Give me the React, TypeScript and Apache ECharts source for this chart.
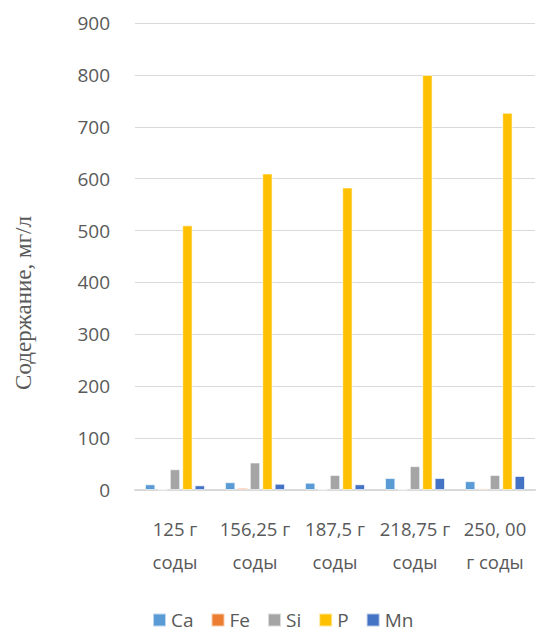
import React, { useEffect, useRef } from "react";
import * as echarts from "echarts";

const categories = ["125 г\nсоды", "156,25 г\nсоды", "187,5 г\nсоды", "218,75 г\nсоды", "250, 00\nг соды"];
const seriesNames = ["Ca", "Fe", "Si", "P", "Mn"];
const caValues = [11, 15, 14, 23, 17];
const feValues = [1, 4, 1, 1, 3];
const siValues = [40, 53, 29, 46, 29];
const pValues = [510, 610, 583, 800, 727];
const mnValues = [9, 12, 11, 23, 27];
const colors = ["#5B9BD5", "#ED7D31", "#A5A5A5", "#FFC000", "#4472C4"];
const yTitle = "Содержание, мг/л";

export default function App() {
  const ref = useRef<HTMLDivElement>(null);
  useEffect(() => {
    if (!ref.current) return;
    const chart = echarts.init(ref.current, null, { renderer: "svg" });
    const data = [caValues, feValues, siValues, pValues, mnValues];
    chart.setOption({
      animation: false,
      backgroundColor: "#ffffff",
      textStyle: { fontFamily: "Open Sans" },
      grid: { left: 135, right: 2, top: 23, bottom: 144 },
      legend: {
        data: seriesNames,
        left: 147,
        top: 604,
        padding: [5, 5, 5, 5],
        itemWidth: 13,
        itemHeight: 13,
        itemGap: 17,
        icon: "rect",
        textStyle: { color: "#595959", fontSize: 19, lineHeight: 22, fontFamily: "Open Sans" },
      },
      xAxis: {
        type: "category",
        data: categories,
        axisLine: { lineStyle: { color: "#D9D9D9", width: 2 } },
        axisTick: { show: false },
        axisLabel: {
          color: "#595959",
          fontSize: 18.5,
          lineHeight: 33,
          margin: 22,
          interval: 0,
          fontFamily: "Open Sans",
        },
      },
      yAxis: {
        type: "value",
        min: 0,
        max: 900,
        interval: 100,
        axisLine: { show: false },
        axisTick: { show: false },
        splitLine: { lineStyle: { color: "#D9D9D9", width: 1 } },
        axisLabel: { color: "#595959", fontSize: 19, margin: 25, fontFamily: "Open Sans" },
      },
      graphic: [
        {
          type: "text",
          x: 23,
          y: 303,
          rotation: Math.PI / 2,
          style: {
            text: yTitle,
            fill: "#595959",
            font: "23px 'Liberation Serif'",
            textAlign: "center",
            textVerticalAlign: "middle",
          },
        },
      ],
      series: seriesNames.map((name, i) => ({
        name,
        type: "bar",
        data: data[i],
        barGap: "20%",
        barCategoryGap: "25%",
        itemStyle: { color: colors[i], borderColor: "rgba(255,255,255,0.6)", borderWidth: 1 },
      })),
    });
    return () => chart.dispose();
  }, []);
  return <div ref={ref} style={{ position: "fixed", left: 0, top: 0, width: 537, height: 634 }} />;
}
